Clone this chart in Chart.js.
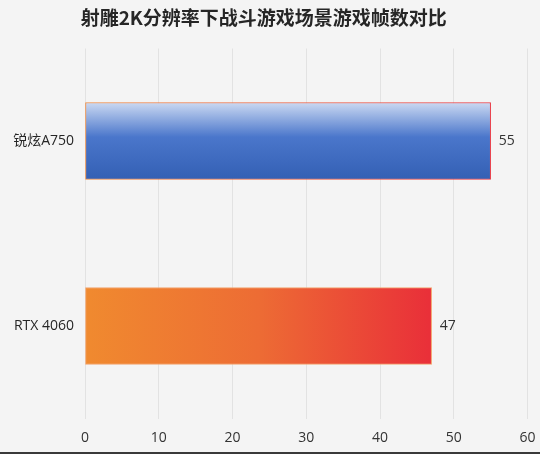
<!DOCTYPE html>
<html>
<head>
<meta charset="utf-8">
<script src="https://cdn.jsdelivr.net/npm/chart.js@4/dist/chart.umd.min.js"></script>
<style>
  html, body { margin: 0; padding: 0; background: #f4f4f4; }
  #wrap { width: 540px; height: 452px; border-bottom: 2px solid #3a3a3a; position: relative; }
</style>
</head>
<body>
<div id="wrap"><canvas id="chart"></canvas></div>
<script>
const titleText = '射雕2K分辨率下战斗游戏场景游戏帧数对比';
const cards = ['锐炫A750', 'RTX 4060'];
const fps = [55, 47];
const axisMin = 0, axisMax = 60, axisStep = 10;

const fontFam = "'Open Sans', 'Noto Sans CJK SC', sans-serif";
const BAR_H = 77;

// gradient fill per bar, built from the scales so it follows the bar
function barFill(ctx) {
    const chart = ctx.chart;
    const { chartArea, scales } = chart;
    if (!chartArea) return ctx.dataIndex === 0 ? '#4472c4' : '#ed6a33';
    const c = chart.ctx;
    if (ctx.dataIndex === 0) {
        const yc = scales.y.getPixelForValue(0);
        const g = c.createLinearGradient(0, yc - BAR_H / 2, 0, yc + BAR_H / 2);
        g.addColorStop(0, '#cbd9f2');
        g.addColorStop(0.45, '#4a76cb');
        g.addColorStop(1, '#3460b4');
        return g;
    }
    const x0 = scales.x.getPixelForValue(0);
    const x1 = scales.x.getPixelForValue(fps[ctx.dataIndex]);
    const g = c.createLinearGradient(x0, 0, x1, 0);
    g.addColorStop(0, '#f08a2f');
    g.addColorStop(0.5, '#ed6c34');
    g.addColorStop(1, '#e92f39');
    return g;
}

function barBorder(ctx) {
    const chart = ctx.chart;
    const { chartArea, scales } = chart;
    if (!chartArea) return '#e8604a';
    if (ctx.dataIndex === 1) return '#f2a36c';
    const x0 = scales.x.getPixelForValue(0);
    const x1 = scales.x.getPixelForValue(fps[0]);
    const g = chart.ctx.createLinearGradient(x0, 0, x1, 0);
    g.addColorStop(0, '#ee8a40');
    g.addColorStop(1, '#e8333f');
    return g;
}

// value labels at the end of each bar
const valueLabels = {
    id: 'valueLabels',
    afterDatasetsDraw(chart) {
        const c = chart.ctx;
        const meta = chart.getDatasetMeta(0);
        c.save();
        c.font = '14px ' + fontFam;
        c.fillStyle = '#333333';
        c.textAlign = 'left';
        c.textBaseline = 'middle';
        meta.data.forEach((bar, i) => {
            c.fillText(String(fps[i]), bar.x + 8, bar.y);
        });
        c.restore();
    }
};

new Chart(document.getElementById('chart'), {
    type: 'bar',
    data: {
        labels: cards,
        datasets: [{
            data: fps,
            backgroundColor: barFill,
            borderColor: barBorder,
            borderWidth: 1,
            borderSkipped: false,
            barThickness: BAR_H
        }]
    },
    options: {
        indexAxis: 'y',
        responsive: true,
        maintainAspectRatio: false,
        animation: false,
        layout: { padding: { left: 0, right: 12.5, top: 0, bottom: 0 } },
        plugins: {
            legend: { display: false },
            tooltip: { enabled: false },
            title: {
                display: true,
                text: titleText,
                color: '#262626',
                font: { family: "'Noto Sans CJK SC', sans-serif", size: 19, weight: 'bold', lineHeight: 1.2 },
                padding: { top: 6, bottom: 19.7 }
            }
        },
        scales: {
            x: {
                min: axisMin,
                max: axisMax,
                ticks: {
                    stepSize: axisStep,
                    color: '#333333',
                    font: { family: fontFam, size: 14 },
                    padding: 11,
                    maxRotation: 0
                },
                grid: { color: '#e2e2e2', drawTicks: false },
                border: { display: false },
                afterFit: s => { s.height = 33.5; s.paddingLeft = 0; s.paddingRight = 0; }
            },
            y: {
                ticks: {
                    color: '#262626',
                    font: { family: fontFam, size: 14 },
                    padding: 11
                },
                grid: { display: false, drawTicks: false },
                border: { display: false },
                afterFit: s => { s.width = 85; }
            }
        }
    },
    plugins: [valueLabels]
});
</script>
</body>
</html>
